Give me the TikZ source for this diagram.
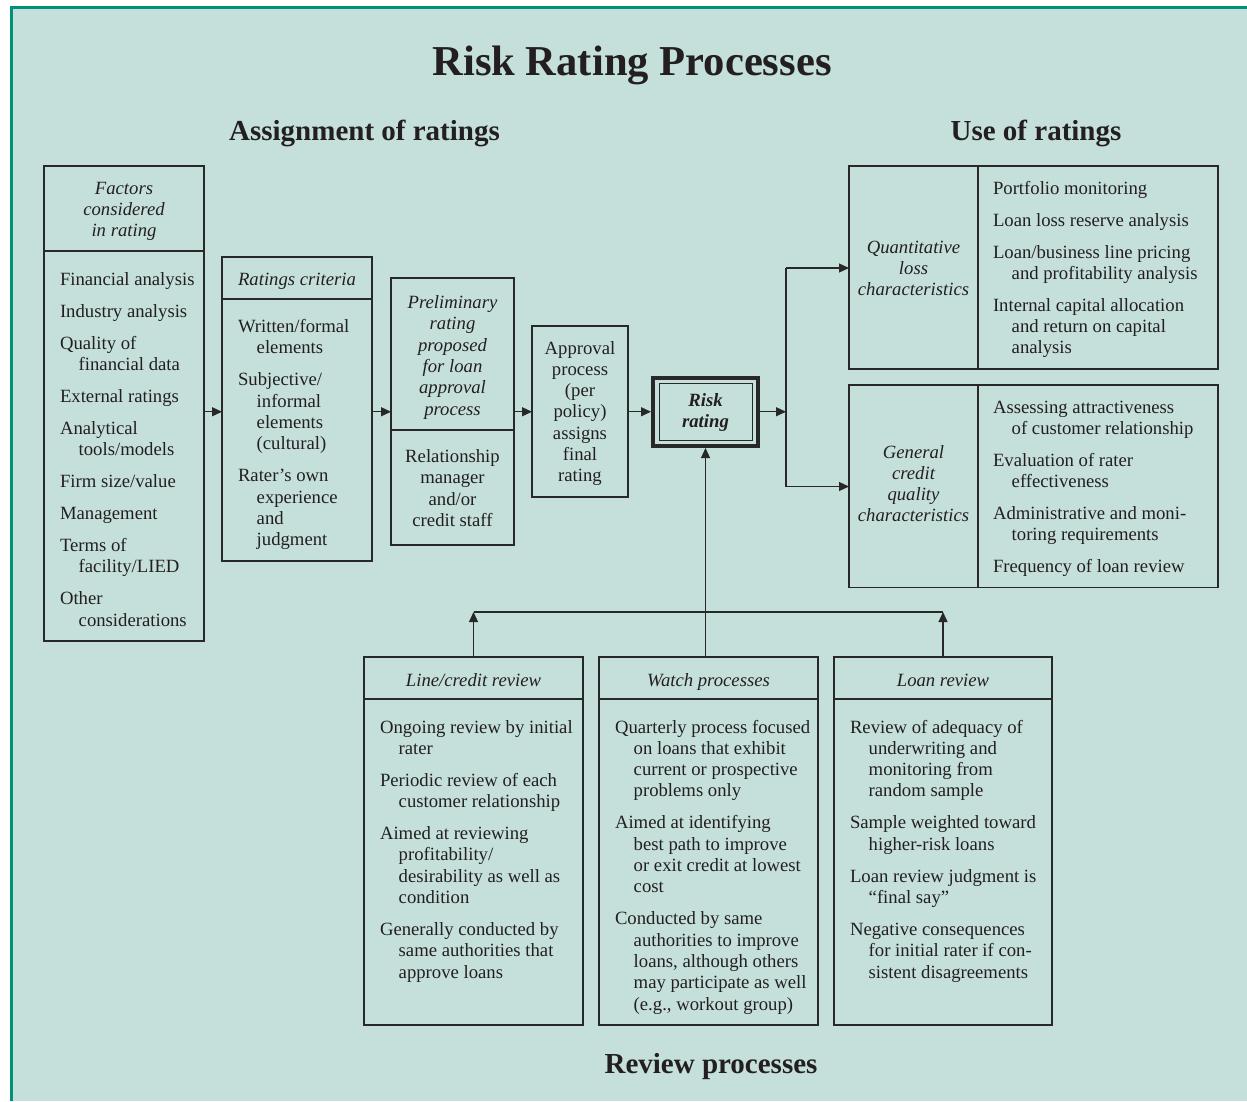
\documentclass[tikz,border=0pt]{standalone}
\usepackage{fontspec}
\setmainfont{Liberation Serif}
\usetikzlibrary{arrows.meta}
\definecolor{bgc}{RGB}{197,224,219}
\definecolor{grn}{RGB}{0,145,120}
\definecolor{linec}{RGB}{40,40,40}
\definecolor{txtc}{RGB}{35,31,32}
\newcommand\myc[1]{\hbox to 0pt{\hss#1\hss}}
\newcommand\myl[1]{\hbox{#1}}
\newcommand\myi[1]{\hbox{\kern18.7pt #1}}
\newcommand\mygap{\vskip10.7pt}
\newcommand\blk[1]{\vtop{#1}}
\begin{document}
\begin{tikzpicture}[x=1pt,y=-1pt,
  box/.style={draw=linec, line width=1.2pt, rectangle, inner sep=0pt, outer sep=0pt},
  txt/.style={inner sep=0pt, outer sep=0pt, text=txtc, font=\fontsize{18.7}{21.3}\selectfont},
  itx/.style={txt, font=\fontsize{18.7}{21.3}\selectfont\itshape},
  hdr/.style={inner sep=0pt, outer sep=0pt, text=txtc, font=\fontsize{29}{34}\selectfont\bfseries, anchor=base},
  arr/.style={draw=linec, line width=1.2pt, -{Triangle[length=10pt,width=9pt]}},
  ln/.style={draw=linec, line width=1.2pt}]
\useasboundingbox (0,0) rectangle (1247,1101);
\fill[bgc] (11,7.5) rectangle (1247,1101);
\draw[grn, line width=3pt] (11.3,1101) -- (11.3,7.5) -- (1247,7.5);

% headings
\node[hdr, font=\fontsize{42.6}{48}\selectfont\bfseries] (title) at (632,75) {Risk Rating Processes};
\node[hdr] (hAssign) at (364.5,140) {Assignment of ratings};
\node[hdr] (hUse) at (1036,140) {Use of ratings};
\node[hdr] (hReview) at (711,1073) {Review processes};

% boxes
\node[box, minimum width=160, minimum height=475] (fac) at (124,403.5) {};
\node[box, minimum width=150, minimum height=304] (crit) at (297,409) {};
\node[box, minimum width=123, minimum height=267] (prel) at (452.5,411.5) {};
\node[box, minimum width=96, minimum height=171] (appr) at (580,411.5) {};
\node[box, line width=4pt, minimum width=105, minimum height=68.5] (rr) at (705.5,411.75) {};
\node[box, line width=1pt, minimum width=93, minimum height=57.5] (rrin) at (705.5,411.75) {};
\node[box, minimum width=369, minimum height=203] (quant) at (1033.5,267.5) {};
\node[box, minimum width=369, minimum height=202.5] (gen) at (1033.5,486.25) {};
\node[box, minimum width=219, minimum height=368] (line) at (473.5,841) {};
\node[box, minimum width=219, minimum height=368] (watch) at (708.5,841) {};
\node[box, minimum width=218, minimum height=368] (loan) at (943,841) {};

% dividers
\coordinate (d1) at (0,251);
\coordinate (d2) at (0,299);
\coordinate (d3) at (0,430);
\coordinate (d4) at (978,0);
\coordinate (d5) at (0,699);
\draw[ln] (fac.west |- d1) -- (fac.east |- d1);
\draw[ln] (crit.west |- d2) -- (crit.east |- d2);
\draw[ln] (prel.west |- d3) -- (prel.east |- d3);
\draw[ln] (quant.north -| d4) -- (quant.south -| d4);
\draw[ln] (gen.north -| d4) -- (gen.south -| d4);
\draw[ln] (line.west |- d5) -- (line.east |- d5);
\draw[ln] (watch.west |- d5) -- (watch.east |- d5);
\draw[ln] (loan.west |- d5) -- (loan.east |- d5);

% connectors
\draw[arr] (fac.east |- rr.west) -- (crit.west |- rr.west);
\draw[arr] (crit.east |- rr.west) -- (prel.west |- rr.west);
\draw[arr] (prel.east |- rr.west) -- (appr.west |- rr.west);
\draw[arr] (appr.east |- rr.west) -- ([xshift=-2pt]rr.west);
\coordinate (sp) at (786,411.75);
\coordinate (spT) at (786,268);
\coordinate (spB) at (786,486.5);
\draw[arr] ([xshift=2pt]rr.east) -- (sp);
\draw[ln] (spT) -- (spB);
\draw[arr] (spT) -- (spT -| quant.west);
\draw[arr] (spB) -- (spB -| gen.west);
\coordinate (hb) at (705.5,612);
\draw[ln] (line.north |- hb) -- (loan.north |- hb);
\draw[arr] (line.north) -- (line.north |- hb);
\draw[arr] (loan.north) -- (loan.north |- hb);
\draw[arr] (rr.south |- watch.north) -- ([yshift=-2pt]rr.south);

% texts
\node[itx, anchor=base] (facH) at (124,194) {\blk{\myc{Factors}\myc{considered}\myc{in rating}}};
\node[txt, anchor=base west] (facB) at (60,285) {\blk{\myl{Financial analysis}\mygap\myl{Industry analysis}\mygap\myl{Quality of}\myi{financial data}\mygap\myl{External ratings}\mygap\myl{Analytical}\myi{tools/models}\mygap\myl{Firm size/value}\mygap\myl{Management}\mygap\myl{Terms of}\myi{facility/LIED}\mygap\myl{Other}\myi{considerations}}};

\node[itx, anchor=base] (critH) at (297,285.5) {Ratings criteria};
\node[txt, anchor=base west] (critB) at (238,332.5) {\blk{\myl{Written/formal}\myi{elements}\mygap\myl{Subjective/}\myi{informal}\myi{elements}\myi{(cultural)}\mygap\myl{Rater's own}\myi{experience}\myi{and}\myi{judgment}}};

\node[itx, anchor=base] (prelH) at (452.5,308.5) {\blk{\myc{Preliminary}\myc{rating}\myc{proposed}\myc{for loan}\myc{approval}\myc{process}}};
\node[txt, anchor=base] (prelB) at (452.5,462.5) {\blk{\myc{Relationship}\myc{manager}\myc{and/or}\myc{credit staff}}};

\node[txt, anchor=base] (apprT) at (580,354) {\blk{\myc{Approval}\myc{process}\myc{(per}\myc{policy)}\myc{assigns}\myc{final}\myc{rating}}};

\node[txt, anchor=base, font=\fontsize{18.7}{21.3}\selectfont\bfseries\itshape] (rrT) at (705.5,406) {\blk{\myc{Risk}\myc{rating}}};

\node[itx, anchor=base] (quantL) at (913.5,253) {\blk{\myc{Quantitative}\myc{loss}\myc{characteristics}}};
\node[txt, anchor=base west] (quantR) at (993,194) {\blk{\myl{Portfolio monitoring}\mygap\myl{Loan loss reserve analysis}\mygap\myl{Loan/business line pricing}\myi{and profitability analysis}\mygap\myl{Internal capital allocation}\myi{and return on capital}\myi{analysis}}};

\node[itx, anchor=base] (genL) at (913.5,458) {\blk{\myc{General}\myc{credit}\myc{quality}\myc{characteristics}}};
\node[txt, anchor=base west] (genR) at (993,413) {\blk{\myl{Assessing attractiveness}\myi{of customer relationship}\mygap\myl{Evaluation of rater}\myi{effectiveness}\mygap\myl{Administrative and moni-}\myi{toring requirements}\mygap\myl{Frequency of loan review}}};

\node[itx, anchor=base] (lineH) at (473.5,686.5) {Line/credit review};
\node[itx, anchor=base] (watchH) at (708.5,686.5) {Watch processes};
\node[itx, anchor=base] (loanH) at (943,686.5) {Loan review};

\node[txt, anchor=base west] (lineB) at (380,733) {\blk{\myl{Ongoing review by initial}\myi{rater}\mygap\myl{Periodic review of each}\myi{customer relationship}\mygap\myl{Aimed at reviewing}\myi{profitability/}\myi{desirability as well as}\myi{condition}\mygap\myl{Generally conducted by}\myi{same authorities that}\myi{approve loans}}};

\node[txt, anchor=base west] (watchB) at (615,733) {\blk{\myl{Quarterly process focused}\myi{on loans that exhibit}\myi{current or prospective}\myi{problems only}\mygap\myl{Aimed at identifying}\myi{best path to improve}\myi{or exit credit at lowest}\myi{cost}\mygap\myl{Conducted by same}\myi{authorities to improve}\myi{loans, although others}\myi{may participate as well}\myi{(e.g., workout group)}}};

\node[txt, anchor=base west] (loanB) at (850,733) {\blk{\myl{Review of adequacy of}\myi{underwriting and}\myi{monitoring from}\myi{random sample}\mygap\myl{Sample weighted toward}\myi{higher-risk loans}\mygap\myl{Loan review judgment is}\myi{``final say''}\mygap\myl{Negative consequences}\myi{for initial rater if con-}\myi{sistent disagreements}}};
\end{tikzpicture}
\end{document}
